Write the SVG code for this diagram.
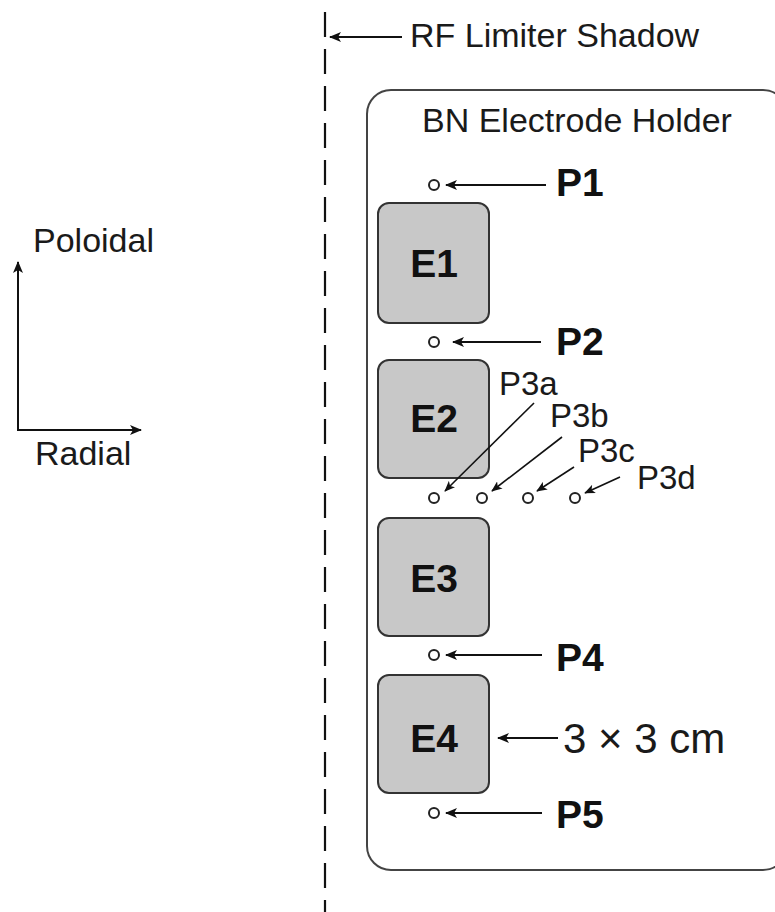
<svg xmlns="http://www.w3.org/2000/svg" width="775" height="912" viewBox="0 0 775 912">
<defs>
<marker id="ah" viewBox="0 0 12 10" refX="11" refY="5" markerWidth="12" markerHeight="10" markerUnits="userSpaceOnUse" orient="auto">
<path d="M0,0 L12,5 L0,10 L3,5 z" fill="#111"/>
</marker>
<marker id="ahs" viewBox="0 0 12 10" refX="11" refY="5" markerWidth="11" markerHeight="9" markerUnits="userSpaceOnUse" orient="auto">
<path d="M0,0 L12,5 L0,10 L3,5 z" fill="#111"/>
</marker>
</defs>
<style>
.t{font-family:"Liberation Sans",Arial,sans-serif;font-size:34px;fill:#1a1a1a}
.b{font-family:"Liberation Sans",Arial,sans-serif;font-size:39px;font-weight:bold;fill:#111}
.s{font-family:"Liberation Sans",Arial,sans-serif;font-size:33px;fill:#1a1a1a}
.el{fill:#c8c8c8;stroke:#333;stroke-width:2}
.pr{fill:#fff;stroke:#222;stroke-width:2}
.ar{stroke:#111;stroke-width:2;fill:none;marker-end:url(#ah)}
.ar2{stroke:#111;stroke-width:1.6;fill:none;marker-end:url(#ahs)}
</style>
<rect width="775" height="912" fill="#fff"/>
<g id="limiter">
<line x1="325" y1="12" x2="325" y2="912" stroke="#111" stroke-width="2.2" stroke-dasharray="25 12"/>
<text class="t" x="410" y="47">RF Limiter Shadow</text>
</g>
<g id="axes">
<line x1="18" y1="430" x2="18" y2="262" class="ar"/>
<line x1="17" y1="430" x2="141" y2="430" class="ar"/>
<text class="t" x="33" y="252">Poloidal</text>
<text class="t" x="35" y="465">Radial</text>
</g>
<g id="holder">
<rect x="367" y="90" width="420" height="780" rx="24" fill="none" stroke="#444" stroke-width="2"/>
<text class="t" x="422" y="132">BN Electrode Holder</text>
</g>
<g id="E1"><rect class="el" x="378" y="203" width="111" height="120" rx="11"/><text class="b" x="434" y="277" text-anchor="middle">E1</text></g>
<g id="E2"><rect class="el" x="378" y="360" width="111" height="118" rx="11"/><text class="b" x="434" y="432" text-anchor="middle">E2</text></g>
<g id="E3"><rect class="el" x="378" y="518" width="111" height="118" rx="11"/><text class="b" x="434" y="592" text-anchor="middle">E3</text></g>
<g id="E4"><rect class="el" x="378" y="675" width="111" height="118" rx="11"/><text class="b" x="434" y="752" text-anchor="middle">E4</text></g>
<g id="P1"><circle class="pr" cx="434" cy="185" r="5"/><text class="b" x="556" y="196">P1</text></g>
<g id="P2"><circle class="pr" cx="434" cy="342" r="5"/><text class="b" x="556" y="355">P2</text></g>
<g id="P3a"><circle class="pr" cx="434" cy="498" r="5"/><text class="s" x="499" y="395">P3a</text></g>
<g id="P3b"><circle class="pr" cx="482" cy="498" r="5"/><text class="s" x="550" y="427">P3b</text></g>
<g id="P3c"><circle class="pr" cx="528" cy="498" r="5"/><text class="s" x="578" y="462">P3c</text></g>
<g id="P3d"><circle class="pr" cx="575" cy="498" r="5"/><text class="s" x="637" y="489">P3d</text></g>
<g id="P4"><circle class="pr" cx="434" cy="655" r="5"/><text class="b" x="556" y="671">P4</text></g>
<g id="P5"><circle class="pr" cx="434" cy="813" r="5"/><text class="b" x="556" y="828">P5</text></g>
<g id="size"><text class="t" x="563" y="753" style="font-size:42px">3 × 3 cm</text></g>
<g id="connectors">
<line class="ar" x1="402" y1="37" x2="330" y2="37"/>
<line class="ar" x1="546" y1="185" x2="446" y2="185"/>
<line class="ar" x1="541" y1="342" x2="453" y2="342"/>
<line class="ar2" x1="534" y1="403" x2="445" y2="491"/>
<line class="ar2" x1="562" y1="437" x2="492" y2="491"/>
<line class="ar2" x1="574" y1="467" x2="537" y2="491"/>
<line class="ar2" x1="620" y1="477" x2="585" y2="493"/>
<line class="ar" x1="542" y1="655" x2="446" y2="655"/>
<line class="ar" x1="558" y1="738" x2="498" y2="738"/>
<line class="ar" x1="542" y1="813" x2="446" y2="813"/>
</g>
</svg>
